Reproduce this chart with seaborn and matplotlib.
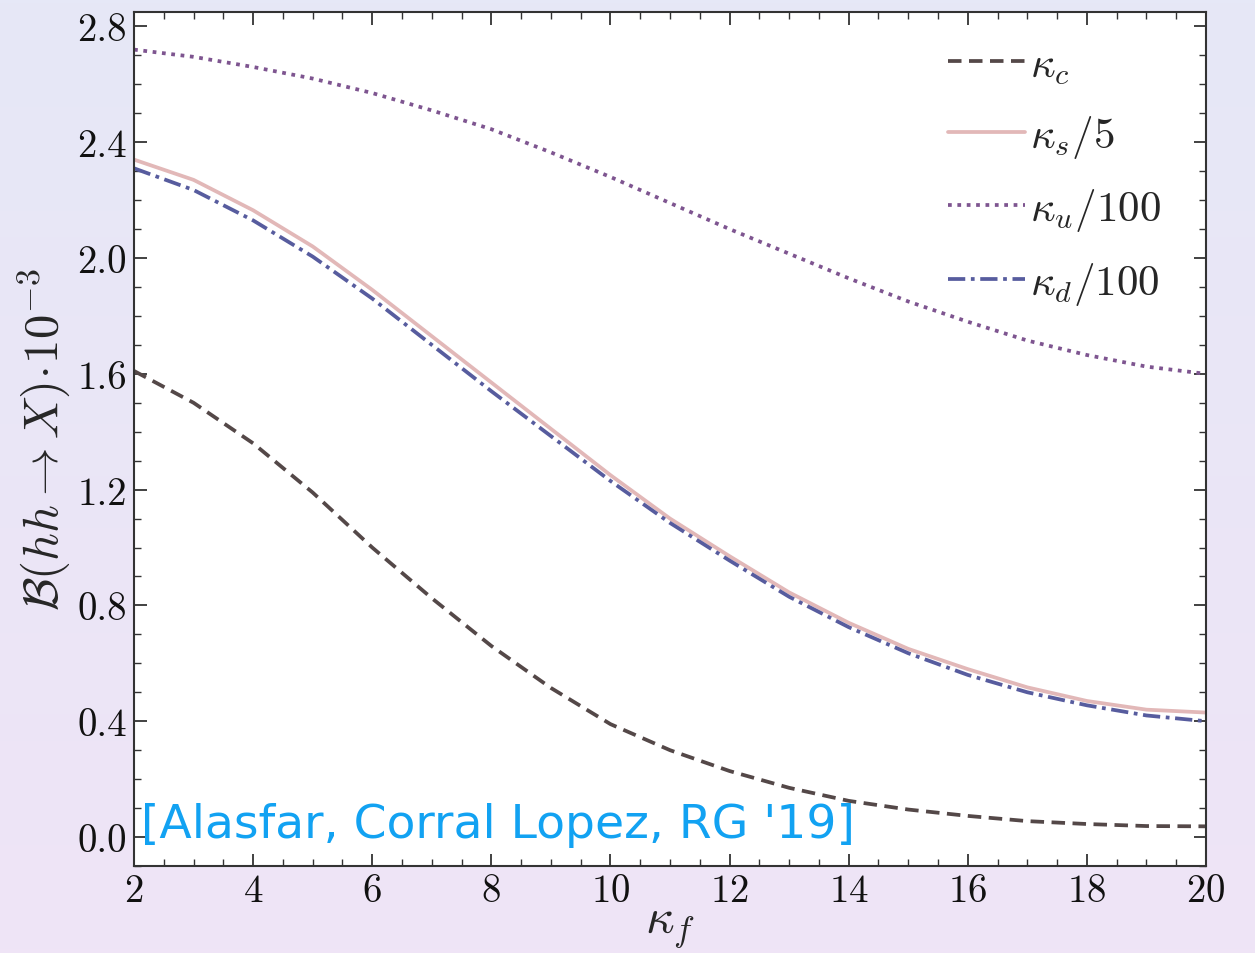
import numpy as np
import pandas as pd
import matplotlib
matplotlib.use("Agg")
import matplotlib.pyplot as plt
import seaborn as sns
from matplotlib.ticker import MultipleLocator, FormatStrFormatter

kappa_f = [2, 3, 4, 5, 6, 7, 8, 9, 10, 11, 12, 13, 14, 15, 16, 17, 18, 19, 20]
kc = [1.61, 1.50, 1.36, 1.19, 1.00, 0.825, 0.66, 0.515, 0.39, 0.30, 0.228, 0.17,
      0.125, 0.095, 0.073, 0.055, 0.045, 0.038, 0.037]
ks = [2.34, 2.27, 2.165, 2.04, 1.89, 1.73, 1.57, 1.41, 1.25, 1.10, 0.97, 0.845,
      0.74, 0.65, 0.58, 0.517, 0.47, 0.44, 0.43]
ku = [2.72, 2.695, 2.66, 2.62, 2.57, 2.51, 2.445, 2.365, 2.28, 2.19, 2.10, 2.015,
      1.93, 1.85, 1.78, 1.715, 1.665, 1.625, 1.60]
kd = [2.31, 2.235, 2.13, 2.005, 1.86, 1.70, 1.54, 1.385, 1.23, 1.085, 0.955, 0.83,
      0.725, 0.635, 0.56, 0.50, 0.455, 0.42, 0.40]
labels = [r"$\kappa_c$", r"$\kappa_s/5$", r"$\kappa_u/100$", r"$\kappa_d/100$"]
colors = ["#544848", "#e2b8b8", "#7e5590", "#575c9e"]

sns.set_theme(style="white")
plt.rcParams["font.family"] = ["cmr10", "DejaVu Serif"]
plt.rcParams["mathtext.fontset"] = "cm"
plt.rcParams["axes.formatter.use_mathtext"] = True

fig = plt.figure(figsize=(12.55, 9.54), dpi=100)

# gradient background
bg = fig.add_axes([0, 0, 1, 1], zorder=-10)
grad = np.linspace(0, 1, 256)[:, None]
c_top = np.array([0xe6, 0xe8, 0xf7]) / 255
c_bot = np.array([0xef, 0xe4, 0xf6]) / 255
img = c_top[None, None, :] * (1 - grad[:, :, None]) + c_bot[None, None, :] * grad[:, :, None]
bg.imshow(img, aspect="auto", extent=[0, 1, 0, 1])
bg.set_axis_off()

ax = fig.add_axes([0.1068, 0.0912, 0.961 - 0.1068, 0.9864 - 0.0912])
ax.set_facecolor("white")

series = [kc, ks, ku, kd]
styles = [(0, (3.6, 2.0)), "-", (0, (1.0, 1.5)), (0, (4.6, 1.5, 1.0, 1.5))]
for vals, lab, col, ls in zip(series, labels, colors, styles):
    df = pd.DataFrame({"x": kappa_f, "y": vals})
    sns.lineplot(data=df, x="x", y="y", ax=ax, color=col, linewidth=2.7,
                 linestyle=ls, label=lab)

ax.set_xlim(2, 20)
ax.set_ylim(-0.1, 2.85)
ax.xaxis.set_major_locator(MultipleLocator(2))
ax.xaxis.set_minor_locator(MultipleLocator(0.5))
ax.yaxis.set_major_locator(MultipleLocator(0.4))
ax.yaxis.set_minor_locator(MultipleLocator(0.1))
ax.yaxis.set_major_formatter(FormatStrFormatter("%.1f"))
ax.tick_params(which="both", direction="in", top=True, right=True,
               bottom=True, left=True, colors="#333333", labelcolor="#111111")
ax.tick_params(which="major", length=9, width=1.3, labelsize=28, pad=5)
ax.tick_params(which="minor", length=5, width=1.0)
for s in ax.spines.values():
    s.set_color("#333333")
    s.set_linewidth(1.5)

ax.set_xlabel(r"$\kappa_f$", fontsize=36, labelpad=-4)
ax.set_ylabel(r"$\mathcal{B}(hh\rightarrow X)\!\cdot\!10^{-3}$", fontsize=35, labelpad=4)

leg = ax.legend(loc="upper right", frameon=False, fontsize=31, handlelength=1.8,
                handletextpad=0.1, labelspacing=0.62, borderaxespad=0.4,
                bbox_to_anchor=(0.99, 1.0))

ax.text(2.12, 0.0, "[Alasfar, Corral Lopez, RG '19]", color="#12a2f2", fontsize=34,
        family=["DejaVu Sans"], ha="left", va="baseline")

fig.savefig("out.png", dpi=100)
